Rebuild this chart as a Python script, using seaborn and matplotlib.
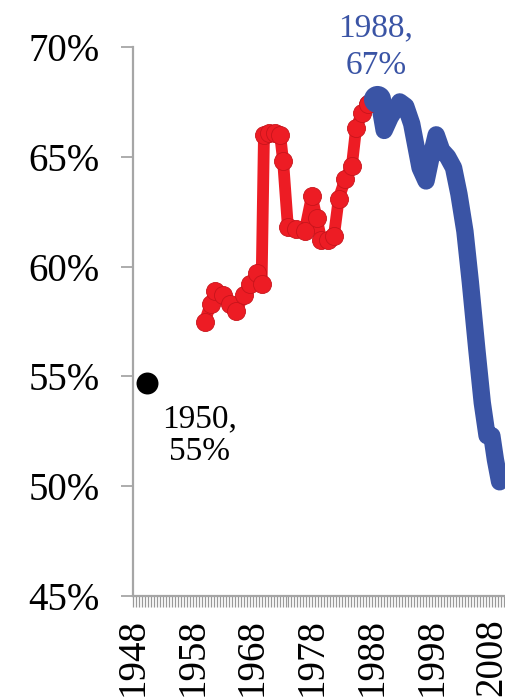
import matplotlib
matplotlib.use("Agg")
import matplotlib.pyplot as plt
import matplotlib.ticker as mticker
import seaborn as sns
import pandas as pd

# ---- data ----
red_years = [1960.0, 1961.0, 1961.7, 1963.0, 1964.2, 1965.3, 1966.5, 1967.5, 1968.7, 1969.5,
             1969.9, 1970.7, 1971.7, 1972.6, 1973.1, 1973.9, 1975.2, 1976.7, 1977.9, 1978.7,
             1979.5, 1980.6, 1981.6, 1982.4, 1983.5, 1984.6, 1985.3, 1986.3, 1987.3]
red_vals = [57.5, 58.3, 58.9, 58.7, 58.3, 58.0, 58.7, 59.2, 59.7, 59.2,
            66.0, 66.1, 66.1, 66.0, 64.8, 61.8, 61.7, 61.6, 63.2, 62.2,
            61.2, 61.2, 61.4, 63.1, 64.0, 64.6, 66.3, 67.0, 67.4]

blue_years = [1987.3, 1988.5, 1989.3, 1990.0, 1991.0, 1992.6, 1993.6, 1994.6, 1996.0, 1997.0,
              1998.0, 1998.7, 1999.6, 2000.6, 2001.6, 2002.5, 2003.5, 2004.4, 2005.5, 2006.4,
              2007.2, 2008.0, 2008.6, 2009.3]
blue_vals = [67.4, 67.7, 67.3, 66.2, 66.8, 67.5, 67.3, 66.5, 64.5, 63.9,
             65.2, 66.0, 65.3, 65.0, 64.5, 63.3, 61.6, 59.3, 56.2, 53.8,
             52.3, 52.3, 51.2, 50.2]

point_1950 = (1950.3, 54.7)
peak_1988 = (1988.8, 67.65)

label_1950 = "1950,\n55%"
label_1988 = "1988,\n67%"
xtick_years = [1948, 1958, 1968, 1978, 1988, 1998, 2008]

RED = "#ED1C24"
BLUE = "#3A54A5"
GREY = "#A6A6A6"

sns.set_style("ticks")
plt.rcParams["font.family"] = ["Liberation Serif", "DejaVu Serif"]

fig = plt.figure(figsize=(5.05, 6.98), dpi=100)
ax = fig.add_axes([133 / 505, 102 / 698, 1 - 133 / 505, (596 - 47) / 698])

red_df = pd.DataFrame({"year": red_years, "val": red_vals})
blue_df = pd.DataFrame({"year": blue_years, "val": blue_vals})

sns.lineplot(data=blue_df, x="year", y="val", ax=ax, color=BLUE, linewidth=12.5,
             estimator=None, sort=False, solid_capstyle="round", solid_joinstyle="round")
sns.lineplot(data=red_df, x="year", y="val", ax=ax, color=RED, linewidth=8.5,
             estimator=None, sort=False, marker="o", markersize=13,
             markeredgecolor="#C8141B", markeredgewidth=0.6, zorder=3,
             solid_joinstyle="round")
sns.scatterplot(x=[peak_1988[0]], y=[peak_1988[1]], ax=ax, color=BLUE, s=380,
                edgecolor=BLUE, linewidth=0, zorder=4)
sns.scatterplot(x=[point_1950[0]], y=[point_1950[1]], ax=ax, color="black", s=250,
                edgecolor="black", linewidth=0, zorder=4)

ax.text(1959.2, 52.3, label_1950, ha="center", va="center", fontsize=24,
        color="black", linespacing=1.1)
ax.text(1988.6, 70.0, label_1988, ha="center", va="center", fontsize=24,
        color=BLUE, linespacing=1.3, clip_on=False)

ax.set_xlim(1948, 2010.2)
ax.set_ylim(45, 70)
ax.set_xlabel("")
ax.set_ylabel("")

ax.set_yticks([45, 50, 55, 60, 65, 70])
ax.yaxis.set_major_formatter(mticker.FuncFormatter(lambda v, p: f"{v:.0f}%"))
ax.set_xticks(xtick_years)
ax.set_xticklabels([str(y) for y in xtick_years], rotation=90)
ax.xaxis.set_minor_locator(mticker.MultipleLocator(0.5))

for s in ["top", "right"]:
    ax.spines[s].set_visible(False)
for s in ["left", "bottom"]:
    ax.spines[s].set_color(GREY)
    ax.spines[s].set_linewidth(1.6)

ax.tick_params(axis="y", length=9, width=1.3, color=GREY, pad=15, labelsize=28,
               labelcolor="black")
ax.tick_params(axis="x", which="both", length=8, width=0.9, color="#999999", pad=8,
               labelsize=28, labelcolor="black")
ax.grid(False)

fig.savefig("out.png", dpi=100)
